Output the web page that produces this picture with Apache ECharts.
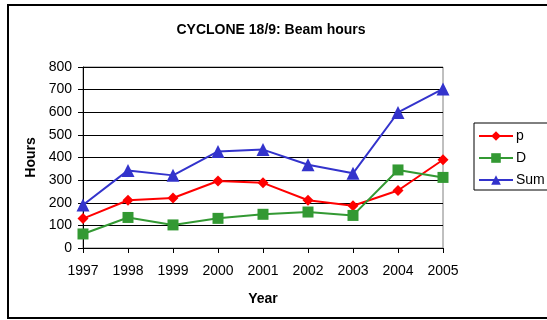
<!DOCTYPE html>
<html>
<head>
<meta charset="utf-8">
<script src="https://cdn.jsdelivr.net/npm/echarts@6/dist/echarts.min.js"></script>
<style>
  html, body { margin: 0; padding: 0; background: #fff; }
  #chart { width: 547px; height: 320px; }
</style>
</head>
<body>
<div id="chart"></div>
<script>
// Beam hours per year for the CYCLONE 18/9 cyclotron
const years = ['1997', '1998', '1999', '2000', '2001', '2002', '2003', '2004', '2005'];
const protonHours = [130, 211, 221, 296, 288, 211, 187, 254, 390];
const deuteronHours = [62, 135, 102, 131, 149, 159, 144, 345, 312];
const sumHours = [190, 343, 321, 427, 435, 368, 330, 599, 703];
const yTicks = { min: 0, max: 800, interval: 100 };

const font = 'Liberation Sans, Arial, sans-serif';

const chart = echarts.init(document.getElementById('chart'), null, { renderer: 'canvas' });

function lineSeries(name, data, color, symbol, size) {
  return {
    name: name,
    type: 'line',
    data: data,
    symbol: symbol,
    symbolSize: size,
    showSymbol: true,
    lineStyle: { color: color, width: 2 },
    itemStyle: { color: color },
    emphasis: { disabled: true },
    animation: false
  };
}

chart.setOption({
  animation: false,
  backgroundColor: '#ffffff',
  graphic: [{
    type: 'rect',
    shape: { x: 8, y: 5, width: 600, height: 313 },
    style: { fill: null, stroke: '#000', lineWidth: 2 },
    silent: true,
    z: -1
  }],
  title: {
    text: 'CYCLONE 18/9: Beam hours',
    left: 266,
    textAlign: 'center',
    top: 18,
    textStyle: { fontFamily: font, fontSize: 14, fontWeight: 'bold', color: '#000' }
  },
  grid: {
    left: 83, right: 104, top: 67, bottom: 72,
    show: true, borderColor: '#808080', borderWidth: 1
  },
  legend: {
    orient: 'vertical',
    left: 474, top: 123,
    padding: [6, 30, 3, 4],
    itemGap: 8,
    itemWidth: 34,
    itemHeight: 12,
    borderColor: '#000',
    borderWidth: 1,
    backgroundColor: '#fff',
    textStyle: { fontFamily: font, fontSize: 14, color: '#000', padding: [0, 0, 0, -2] },
    data: ['p', 'D', 'Sum']
  },
  xAxis: {
    type: 'category',
    data: years,
    boundaryGap: false,
    axisLine: { lineStyle: { color: '#000', width: 1 } },
    axisTick: { show: true, length: 5, inside: false, lineStyle: { color: '#000' } },
    axisLabel: { fontFamily: font, fontSize: 14, color: '#000', margin: 16 },
    splitLine: { show: false },
    name: 'Year',
    nameLocation: 'middle',
    nameGap: 44,
    nameTextStyle: { fontFamily: font, fontSize: 14, fontWeight: 'bold', color: '#000' }
  },
  yAxis: {
    type: 'value',
    min: yTicks.min, max: yTicks.max, interval: yTicks.interval,
    axisLine: { show: true, lineStyle: { color: '#000', width: 1 } },
    axisTick: { show: true, length: 5, lineStyle: { color: '#000' } },
    axisLabel: { fontFamily: font, fontSize: 14, color: '#000', margin: 11 },
    splitLine: { show: true, lineStyle: { color: '#000', width: 1 } },
    name: 'Hours',
    nameLocation: 'middle',
    nameGap: 44,
    nameRotate: 90,
    nameTextStyle: { fontFamily: font, fontSize: 14, fontWeight: 'bold', color: '#000' }
  },
  series: [
    lineSeries('p', protonHours, '#ff0000', 'diamond', 11),
    lineSeries('D', deuteronHours, '#339933', 'rect', 11),
    lineSeries('Sum', sumHours, '#3333cc', 'triangle', 13)
  ]
});
</script>
</body>
</html>
